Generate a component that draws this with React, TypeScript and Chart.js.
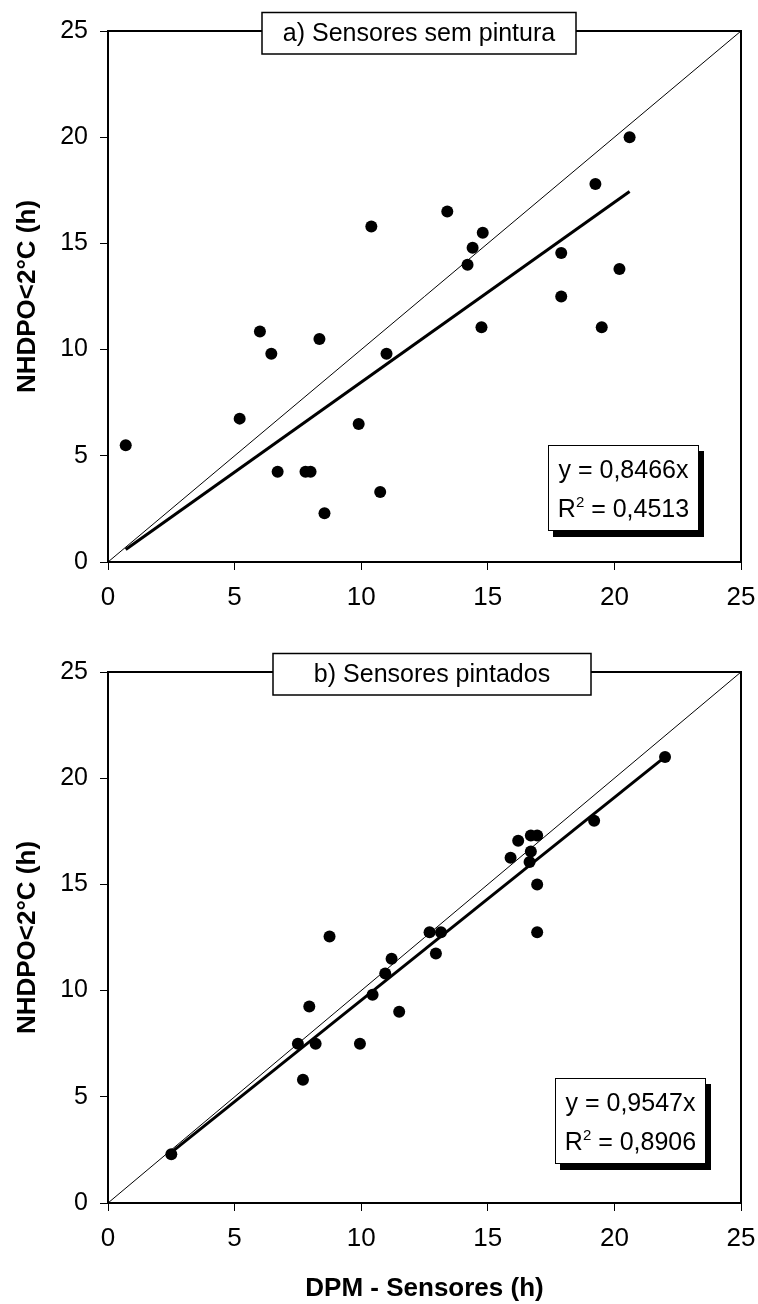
import React, { useEffect, useRef } from "react";
import { Chart, registerables } from "chart.js";

Chart.register(...registerables);

const FAMILY = "'Liberation Sans', Arial, Helvetica, sans-serif";

// ---- Axis ----
const AXIS_MIN = 0;
const AXIS_MAX = 25;
const AXIS_STEP = 5;

// ---- Panel a) Sensores sem pintura ----
const titleA = "a) Sensores sem pintura";
const xA = [20.6, 19.25, 13.4, 10.4, 14.8, 14.4, 14.2, 17.9, 20.2, 17.9, 14.75, 19.5, 6.0, 8.35, 6.45, 11.0, 5.2, 9.9, 0.7, 6.7, 7.8, 8.0, 10.75, 8.55];
const yA = [20.0, 17.8, 16.5, 15.8, 15.5, 14.8, 14.0, 14.55, 13.8, 12.5, 11.05, 11.05, 10.85, 10.5, 9.8, 9.8, 6.75, 6.5, 5.5, 4.25, 4.25, 4.25, 3.3, 2.3];
const slopeA = 0.8466;
const r2A = 0.4513;

// ---- Panel b) Sensores pintados ----
const titleB = "b) Sensores pintados";
const xB = [22.0, 19.2, 16.2, 16.7, 16.95, 15.9, 16.7, 16.65, 16.95, 16.95, 8.75, 12.7, 13.15, 12.95, 11.2, 10.95, 10.45, 7.95, 11.5, 7.5, 8.2, 9.95, 7.7, 2.5];
const yB = [21.0, 18.0, 17.05, 17.3, 17.3, 16.25, 16.55, 16.05, 15.0, 12.75, 12.55, 12.75, 12.75, 11.75, 11.5, 10.8, 9.8, 9.25, 9.0, 7.5, 7.5, 7.5, 5.8, 2.3];
const slopeB = 0.9547;
const r2B = 0.8906;

const yTitle = "NHDPO<2°C (h)";
const xTitle = "DPM - Sensores (h)";

const fmt = (v: number) => v.toFixed(4).replace(".", ",");

const decorPlugin = {
  id: "decor",
  afterDraw(chart: any, _args: any, o: any) {
    const { ctx, chartArea: a } = chart;
    ctx.save();
    // frame
    ctx.strokeStyle = "#000";
    ctx.lineWidth = 2;
    ctx.strokeRect(a.left, a.top, a.right - a.left, a.bottom - a.top);

    // title box
    const tTop = a.top - 18.5;
    const tBot = a.top + 23;
    ctx.fillStyle = "#fff";
    ctx.fillRect(o.titleLeft, tTop, o.titleRight - o.titleLeft, tBot - tTop);
    ctx.lineWidth = 1.5;
    ctx.strokeRect(o.titleLeft, tTop, o.titleRight - o.titleLeft, tBot - tTop);
    ctx.fillStyle = "#000";
    ctx.font = `25px ${FAMILY}`;
    ctx.textAlign = "center";
    ctx.textBaseline = "alphabetic";
    ctx.fillText(o.title, (o.titleLeft + o.titleRight) / 2, a.top + 10);

    // equation box
    const w = o.eqW;
    const h = o.eqH;
    const bx = a.right - o.eqRight - w;
    const by = a.bottom - o.eqBottom - h;
    ctx.fillStyle = "#000";
    ctx.fillRect(bx + 5, by + 6, w, h);
    ctx.fillStyle = "#fff";
    ctx.fillRect(bx, by, w, h);
    ctx.lineWidth = 1;
    ctx.strokeStyle = "#000";
    ctx.strokeRect(bx + 0.5, by + 0.5, w - 1, h - 1);

    const cx = bx + w / 2;
    ctx.fillStyle = "#000";
    ctx.font = `25px ${FAMILY}`;
    ctx.textAlign = "center";
    ctx.fillText(`y = ${fmt(o.slope)}x`, cx, by + 33);

    const s1 = "R";
    const s2 = "2";
    const s3 = ` = ${fmt(o.r2)}`;
    ctx.font = `25px ${FAMILY}`;
    const w1 = ctx.measureText(s1).width;
    const w3 = ctx.measureText(s3).width;
    ctx.font = `15px ${FAMILY}`;
    const w2 = ctx.measureText(s2).width;
    let sx = cx - (w1 + w2 + w3) / 2;
    const base = by + 72;
    ctx.textAlign = "left";
    ctx.font = `25px ${FAMILY}`;
    ctx.fillText(s1, sx, base);
    sx += w1;
    ctx.font = `15px ${FAMILY}`;
    ctx.fillText(s2, sx, base - 10);
    sx += w2;
    ctx.font = `25px ${FAMILY}`;
    ctx.fillText(s3, sx, base);
    ctx.restore();
  },
};

type PanelProps = {
  xs: number[];
  ys: number[];
  slope: number;
  r2: number;
  title: string;
  titleLeft: number;
  titleRight: number;
  eqRight: number;
  eqBottom: number;
  height: number;
  padTop: number;
  xAxisH: number;
  showXTitle: boolean;
};

function Panel(p: PanelProps) {
  const ref = useRef<HTMLCanvasElement>(null);
  useEffect(() => {
    if (!ref.current) return;
    const points = p.xs.map((x, i) => ({ x, y: p.ys[i] }));
    const xmin = Math.min(...p.xs);
    const xmax = Math.max(...p.xs);
    const trend = [
      { x: xmin, y: p.slope * xmin },
      { x: xmax, y: p.slope * xmax },
    ];
    const diag = [
      { x: AXIS_MIN, y: AXIS_MIN },
      { x: AXIS_MAX, y: AXIS_MAX },
    ];
    const chart = new Chart(ref.current, {
      type: "scatter",
      data: {
        datasets: [
          {
            label: "obs",
            data: points,
            backgroundColor: "#000",
            borderColor: "#000",
            borderWidth: 0,
            pointRadius: 6,
            pointHoverRadius: 6,
          },
          {
            label: "trend",
            data: trend,
            showLine: true,
            borderColor: "#000",
            borderWidth: 3,
            pointRadius: 0,
            fill: false,
          },
          {
            label: "1:1",
            data: diag,
            showLine: true,
            borderColor: "#000",
            borderWidth: 1,
            pointRadius: 0,
            fill: false,
          },
        ],
      },
      options: {
        animation: false,
        responsive: false,
        maintainAspectRatio: false,
        events: [],
        layout: { padding: { left: 0, right: 17, top: p.padTop, bottom: 0 } },
        plugins: {
          legend: { display: false },
          tooltip: { enabled: false },
          decor: {
            title: p.title,
            titleLeft: p.titleLeft,
            titleRight: p.titleRight,
            eqW: 151,
            eqH: 86,
            eqRight: p.eqRight,
            eqBottom: p.eqBottom,
            slope: p.slope,
            r2: p.r2,
          },
        } as any,
        scales: {
          x: {
            type: "linear",
            min: AXIS_MIN,
            max: AXIS_MAX,
            border: { display: false },
            grid: { drawOnChartArea: false, drawTicks: true, tickLength: 8, color: "#000", lineWidth: 1 },
            ticks: { stepSize: AXIS_STEP, color: "#000", font: { family: FAMILY, size: 26 }, padding: 12, maxRotation: 0 },
            title: {
              display: p.showXTitle,
              text: xTitle,
              color: "#000",
              font: { family: FAMILY, size: 26, weight: "bold" },
              padding: { top: 0, bottom: 0 },
            },
            afterFit: (s: any) => {
              s.height = p.xAxisH;
              s.paddingLeft = 0;
              s.paddingRight = 0;
            },
          },
          y: {
            type: "linear",
            min: AXIS_MIN,
            max: AXIS_MAX,
            border: { display: false },
            grid: { drawOnChartArea: false, drawTicks: true, tickLength: 8, color: "#000", lineWidth: 1 },
            ticks: { stepSize: AXIS_STEP, color: "#000", font: { family: FAMILY, size: 25 }, padding: 12 },
            title: {
              display: true,
              text: yTitle,
              color: "#000",
              font: { family: FAMILY, size: 26, weight: "bold" },
              padding: { top: 12, bottom: 0 },
            },
            afterFit: (s: any) => {
              s.width = 108;
              s.paddingTop = 0;
              s.paddingBottom = 0;
            },
          },
        },
      } as any,
      plugins: [decorPlugin],
    });
    return () => chart.destroy();
  }, []);
  return (
    <canvas
      ref={ref}
      width={758}
      height={p.height}
      style={{ display: "block", width: 758, height: p.height }}
    />
  );
}

export default function App() {
  return (
    <div style={{ position: "absolute", left: 0, top: 0, width: 758, height: 1304, background: "#fff" }}>
      <div style={{ position: "absolute", left: 0, top: 0 }}>
        <Panel
          xs={xA}
          ys={yA}
          slope={slopeA}
          r2={r2A}
          title={titleA}
          titleLeft={262}
          titleRight={576}
          eqRight={42}
          eqBottom={31}
          height={640}
          padTop={31}
          xAxisH={78}
          showXTitle={false}
        />
      </div>
      <div style={{ position: "absolute", left: 0, top: 640 }}>
        <Panel
          xs={xB}
          ys={yB}
          slope={slopeB}
          r2={r2B}
          title={titleB}
          titleLeft={273}
          titleRight={591}
          eqRight={35}
          eqBottom={39}
          height={664}
          padTop={32}
          xAxisH={101}
          showXTitle={true}
        />
      </div>
    </div>
  );
}
